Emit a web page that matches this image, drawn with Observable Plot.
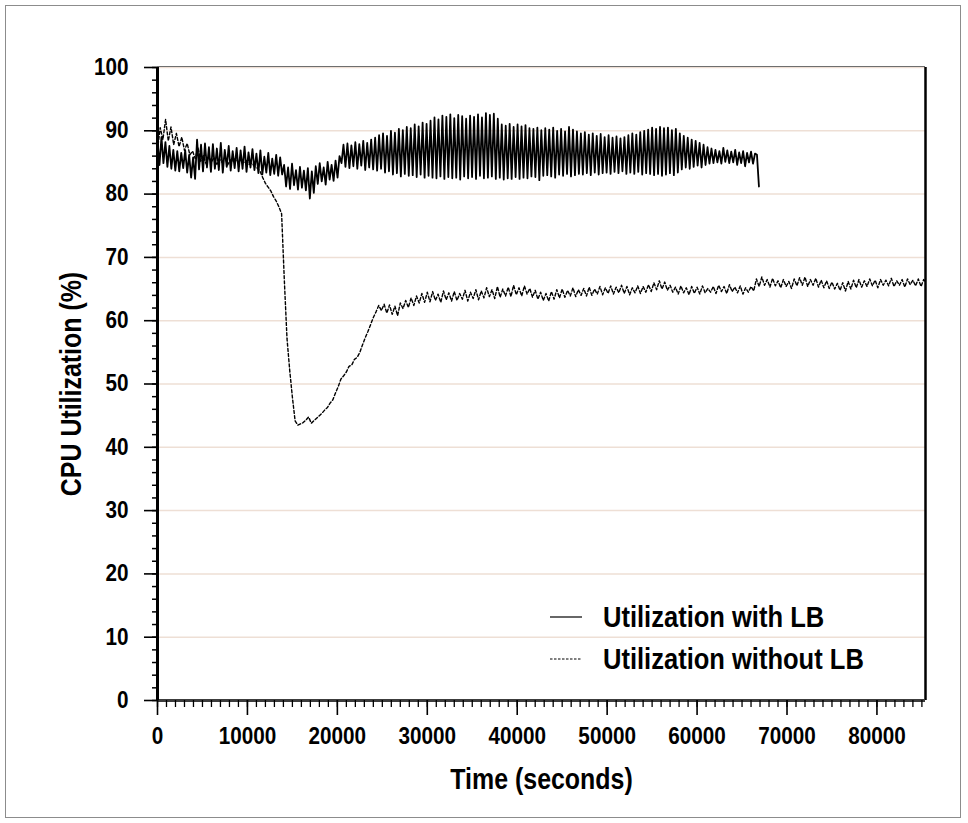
<!DOCTYPE html>
<html>
<head>
<meta charset="utf-8">
<script src="https://cdn.jsdelivr.net/npm/d3@7"></script>
<script src="https://cdn.jsdelivr.net/npm/@observablehq/plot@0.6"></script>
<style>
  html, body { margin: 0; padding: 0; background: #fff; }
  #wrap { position: relative; width: 968px; height: 823px; overflow: hidden; }
  #border { position: absolute; left: 5px; top: 5px; width: 956px; height: 813px; border: 1px solid #8c8c8c; box-sizing: border-box; pointer-events: none; }
  #chart { position: absolute; left: 0; top: 0; }
  g[aria-label="x-axis tick label"] text, g[aria-label="y-axis tick label"] text { font-size: 23px; }
  g[aria-label="x-axis label"] text, g[aria-label="y-axis label"] text { font-size: 29px; }
  #legend { position: absolute; left: 550px; top: 596px; font-family: "Liberation Sans", Arial, sans-serif; font-weight: bold; font-size: 29px; color: #000; }
  .row { display: flex; align-items: center; height: 42px; }
  .row svg { width: 32px; height: 10px; margin-right: 21px; flex: none; }
  .row span { display: inline-block; transform: scaleX(0.88); transform-origin: 0 50%; white-space: nowrap; }
</style>
</head>
<body>
<div id="wrap">
  <div id="chart"></div>
  <div id="legend"></div>
  <div id="border"></div>
</div>
<script>
// ---------- data ----------
const xDomain = [0, 85400];
const yDomain = [0, 100];
const xMajorTicks = [0, 10000, 20000, 30000, 40000, 50000, 60000, 70000, 80000];
const yMajorTicks = [0, 10, 20, 30, 40, 50, 60, 70, 80, 90, 100];
const gridValues = [10, 20, 30, 40, 50, 60, 70, 80, 90, 100];
const legendNames = ["Utilization with LB", "Utilization without LB"];

// Utilization with LB: alternating peak / trough readings, one every 220 s
const withLBStep = 220;
const withLBValues = [
  88.5, 84.6, 89.0, 84.9, 88.2, 84.3, 87.6, 84.0, 87.0, 83.7,
  86.8, 83.6, 86.5, 84.1, 86.9, 83.4, 86.2, 82.6, 85.8, 82.4,
  88.6, 83.9, 87.8, 83.6, 88.0, 84.2, 87.4, 83.5, 87.9, 84.0,
  87.2, 83.8, 88.1, 83.4, 87.0, 84.3, 87.6, 83.7, 86.8, 84.1,
  87.3, 83.6, 86.9, 84.0, 87.5, 83.5, 86.6, 84.2, 87.1, 83.8,
  86.4, 83.3, 86.9, 83.1, 85.9, 83.4, 86.5, 83.0, 85.6, 83.2,
  86.2, 82.9, 85.8, 83.1, 84.6, 81.2, 84.2, 80.8, 84.8, 81.4,
  83.8, 80.7, 84.3, 81.0, 83.7, 80.6, 84.1, 79.3, 83.6, 80.2,
  84.4, 81.6, 84.9, 82.0, 84.2, 81.5, 85.1, 82.3, 84.6, 82.1,
  85.3, 82.6, 86.0, 84.9, 87.8, 84.3, 88.0, 84.1, 87.7, 84.4,
  88.2, 84.0, 87.9, 84.5, 88.4, 83.8, 88.1, 84.2, 88.6, 83.9,
  88.9, 83.7, 89.3, 84.0, 89.6, 83.4, 89.2, 83.6, 90.0, 83.1,
  89.7, 83.3, 90.3, 82.8, 90.1, 83.2, 90.6, 82.9, 90.4, 83.0,
  91.0, 82.7, 90.7, 83.1, 91.3, 82.6, 91.1, 82.9, 91.6, 82.6,
  92.1, 82.5, 91.8, 82.8, 92.4, 82.4, 92.2, 82.7, 92.6, 82.5,
  92.0, 82.6, 92.5, 82.3, 92.3, 82.8, 91.9, 82.5, 92.4, 82.7,
  92.2, 82.4, 92.6, 82.9, 92.1, 82.5, 92.8, 82.6, 92.5, 82.8,
  92.7, 82.4, 91.9, 82.6, 91.0, 82.3, 90.8, 82.5, 91.1, 82.4,
  90.6, 82.7, 91.0, 82.4, 90.7, 82.6, 90.9, 82.5, 90.4, 82.8,
  90.3, 82.7, 90.5, 82.2, 90.1, 82.9, 90.4, 83.0, 90.2, 82.8,
  90.5, 82.6, 90.0, 83.1, 90.3, 82.9, 89.9, 83.2, 90.6, 82.8,
  90.2, 83.0, 89.9, 83.2, 89.6, 83.1, 89.8, 83.3, 89.4, 83.0,
  89.6, 83.4, 89.2, 83.1, 89.5, 83.3, 89.0, 83.4, 89.3, 83.2,
  88.9, 83.5, 89.1, 83.3, 88.8, 83.6, 89.0, 83.2, 89.3, 83.4,
  89.6, 83.2, 89.4, 83.5, 89.8, 83.1, 90.0, 83.3, 90.2, 83.2,
  90.5, 83.0, 90.3, 83.2, 90.6, 82.9, 90.4, 83.1, 90.5, 83.3,
  90.1, 83.0, 90.3, 83.4, 89.6, 83.9, 89.2, 84.2, 88.9, 84.0,
  88.6, 84.3, 88.4, 84.5, 88.1, 84.2, 87.8, 84.6, 87.4, 84.8,
  87.2, 84.9, 87.0, 85.0, 86.8, 84.8, 87.3, 85.1, 86.9, 84.9,
  86.7, 85.0, 87.0, 84.6, 86.6, 84.9, 86.8, 84.4, 86.5, 85.0,
  86.7, 84.8, 86.4, 86.2, 81.2
];

// Utilization without LB: one reading every 300 s
const noLBStep = 300;
const noLBValues = [
  87.0, 90.5, 88.6, 91.8, 88.4, 90.6, 87.8, 89.6, 87.5, 89.0,
  86.9, 88.0, 86.2, 86.8, 85.6, 87.4, 85.2, 86.1, 84.8, 85.9,
  85.1, 85.8, 84.7, 85.5, 85.0, 85.9, 84.6, 85.4, 85.2, 85.7,
  84.9, 85.6, 85.0, 85.3, 84.7, 84.9, 84.3, 84.1, 83.6, 82.6,
  81.7, 81.1, 80.5, 79.6, 78.9, 78.0, 76.9, 66.5, 57.2, 52.2,
  47.9, 44.2, 43.5, 43.7, 43.9, 44.3, 44.8, 43.8, 44.2, 44.6,
  45.0, 45.4, 45.9, 46.3, 47.0, 47.5, 48.6, 49.6, 50.8, 51.3,
  51.9, 52.8, 53.0, 53.9, 54.2, 55.0, 56.2, 57.3, 58.3, 59.4,
  60.5, 61.4, 62.4, 61.6, 62.6, 61.2, 62.5, 61.0, 62.3, 60.8,
  62.8, 61.9, 63.2, 62.1, 63.6, 62.4, 63.9, 62.8, 64.3, 62.9,
  64.5, 63.0, 64.6, 63.2, 64.2, 62.9, 64.7, 63.3, 64.4, 63.1,
  64.6, 63.2, 64.3, 63.4, 64.8, 63.1, 64.5, 63.5, 64.9, 63.3,
  64.7, 63.6, 65.2, 63.8, 64.9, 63.5, 65.4, 63.7, 65.0, 63.9,
  65.3, 63.8, 65.6, 64.1, 65.2, 63.9, 65.5, 64.2, 65.1, 63.7,
  64.8, 63.4, 64.5, 63.2, 64.3, 63.1, 64.6, 63.4, 64.9, 63.6,
  65.0, 63.7, 64.8, 63.9, 65.2, 63.8, 64.9, 64.0, 65.1, 63.9,
  65.3, 64.0, 65.0, 64.2, 65.4, 64.1, 65.2, 64.3, 65.5, 64.2,
  65.3, 64.4, 65.6, 64.3, 65.4, 64.1, 65.2, 64.4, 65.5, 64.3,
  65.4, 64.5, 65.7, 64.6, 66.0, 64.9, 66.3, 65.0, 66.1, 64.8,
  65.6, 64.5, 65.3, 64.2, 65.5, 64.4, 65.2, 64.1, 65.4, 64.3,
  65.3, 64.2, 65.5, 64.4, 65.1, 64.5, 65.4, 64.3, 65.6, 64.6,
  65.4, 64.3, 65.7, 64.6, 65.3, 64.4, 65.5, 64.2, 65.2, 64.5,
  65.4, 64.7, 66.6, 65.4, 66.9, 65.6, 66.5, 65.3, 66.7, 65.5,
  66.3, 65.2, 66.5, 65.4, 66.2, 65.1, 66.6, 65.5, 66.8, 65.6,
  66.9, 65.4, 66.5, 65.6, 66.7, 65.3, 66.4, 65.2, 66.3, 65.1,
  66.1, 65.0, 65.9, 64.8, 66.0, 64.7, 66.2, 65.0, 66.4, 65.2,
  66.5, 65.3, 66.3, 65.4, 66.6, 65.5, 66.4, 65.2, 66.5, 65.6,
  66.4, 65.5, 66.7, 65.4, 66.3, 65.6, 66.5, 65.3, 66.6, 65.7,
  66.4, 65.5, 66.6, 65.4, 66.5, 65.8
];

// ---------- tables ----------
const withLB = withLBValues.map((v, i) => ({t: i * withLBStep, v}));
const noLB = noLBValues.map((v, i) => ({t: i * noLBStep, v}));
const xMinorTicks = d3.range(xDomain[0], xDomain[1] + 1, 1000);
const yMinorTicks = d3.range(0, 101, 2);

const fontFamily = '"Liberation Sans", Arial, Helvetica, sans-serif';

const chart = Plot.plot({
  width: 968,
  height: 823,
  marginLeft: 157,
  marginRight: 43,
  marginTop: 67,
  marginBottom: 123,
  style: {fontFamily, fontSize: "23px", fontWeight: "bold", color: "#000", background: "transparent", overflow: "visible"},
  x: {domain: xDomain},
  y: {domain: yDomain},
  marks: [
    Plot.ruleY(gridValues, {stroke: "#eedfd5", strokeWidth: 1.5}),
    Plot.line(noLB, {x: "t", y: "v", stroke: "#000", strokeWidth: 1.4, strokeDasharray: "3,2.2", clip: true}),
    Plot.line(withLB, {x: "t", y: "v", stroke: "#000", strokeWidth: 1.8, clip: true}),
    Plot.ruleY([yDomain[1]], {stroke: "#6e6e6e", strokeWidth: 1.2, dy: -1}),
    Plot.ruleX([xDomain[1]], {stroke: "#000", strokeWidth: 2.5}),
    Plot.ruleY([yDomain[0]], {stroke: "#3c3c3c", strokeWidth: 3}),
    Plot.ruleX([xDomain[0]], {stroke: "#000", strokeWidth: 3}),
    Plot.axisY({ticks: yMinorTicks, tickSize: 5, tickFormat: () => "", label: null, strokeWidth: 1.5}),
    Plot.axisY({ticks: yMajorTicks, tickSize: 13, tickPadding: 16, tickFormat: d => String(d), strokeWidth: 1.6,
      label: "CPU Utilization (%)", labelAnchor: "center", labelOffset: 97, labelArrow: "none"}),
    Plot.axisX({ticks: xMinorTicks, tickSize: 7, tickFormat: () => "", label: null, strokeWidth: 1.3}),
    Plot.axisX({ticks: xMajorTicks, tickSize: 15, tickPadding: 12, tickFormat: d => String(d), strokeWidth: 1.6,
      label: "Time (seconds)", labelAnchor: "center", labelOffset: 88, labelArrow: "none"})
  ]
});
document.getElementById("chart").appendChild(chart);

// slightly condensed glyphs, as in the original figure
function condense(selector, sx) {
  chart.querySelectorAll(selector).forEach(t => {
    const tr = t.getAttribute("transform") || "";
    t.setAttribute("transform", tr + ` scale(${sx},1)`);
  });
}
condense('g[aria-label="x-axis tick label"] text', 0.9);
condense('g[aria-label="y-axis tick label"] text', 0.9);
condense('g[aria-label="x-axis label"] text', 0.86);
condense('g[aria-label="y-axis label"] text', 0.86);

// legend
const legend = document.getElementById("legend");
const dashes = [null, "2.5,1.5"];
legendNames.forEach((name, i) => {
  const row = document.createElement("div");
  row.className = "row";
  const s = d3.create("svg").attr("viewBox", "0 0 32 10");
  s.append("line").attr("x1", 0).attr("x2", 32).attr("y1", 5).attr("y2", 5)
    .attr("stroke", "#000").attr("stroke-width", 1.2)
    .attr("stroke-dasharray", dashes[i]);
  row.appendChild(s.node());
  const span = document.createElement("span");
  span.textContent = name;
  row.appendChild(span);
  legend.appendChild(row);
});
</script>
</body>
</html>
